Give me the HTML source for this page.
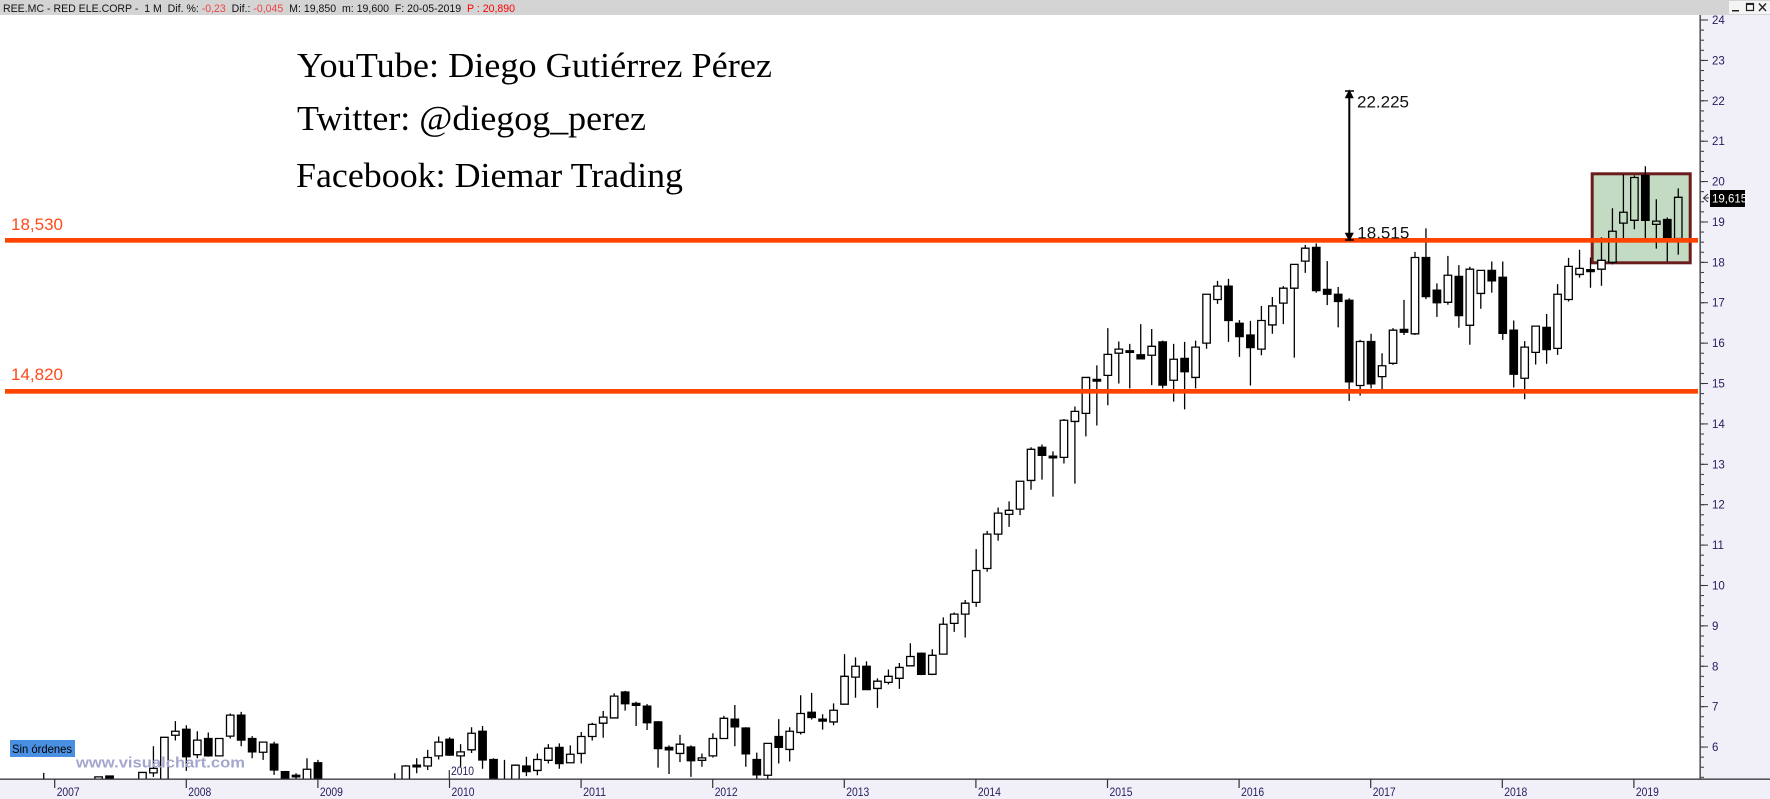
<!DOCTYPE html>
<html><head><meta charset="utf-8">
<style>
html,body{margin:0;padding:0;background:#fff;}
svg{display:block;}
.sans{font-family:"Liberation Sans",Arial,sans-serif;}
.serif{font-family:"Liberation Serif","Times New Roman",serif;}
.wk{fill:none;stroke:#000;stroke-width:1.3;vector-effect:non-scaling-stroke;}
.bd rect{stroke:#000;stroke-width:1.3;vector-effect:non-scaling-stroke;}
.w{fill:#fff;}
.b{fill:#000;}
.g{fill:#c3dbc3;}
.ax{fill:#262060;font-size:11.5px;}
</style></head>
<body>
<svg width="1770" height="799" viewBox="0 0 1770 799" xmlns="http://www.w3.org/2000/svg">
<defs>
<clipPath id="plot"><rect x="0" y="15" width="1700" height="764"/></clipPath>
<pattern id="minor" patternUnits="userSpaceOnUse" x="1700" y="19.02" width="10" height="10.0975"><rect x="0" y="0.5" width="4" height="1" fill="#333"/></pattern>
<pattern id="major" patternUnits="userSpaceOnUse" x="1700" y="19.02" width="10" height="40.39"><rect x="0" y="0.5" width="8" height="1" fill="#333"/></pattern>
</defs>

<!-- backgrounds -->
<rect x="0" y="0" width="1770" height="799" fill="#fff"/>
<rect x="1700" y="15" width="70" height="784" fill="#f1eff7"/>
<rect x="0" y="779" width="1770" height="20" fill="#f1eff7"/>
<rect x="0" y="0" width="1770" height="15" fill="#d4d4d4"/>

<!-- header -->
<text class="sans" x="3" y="12" font-size="11" textLength="512" lengthAdjust="spacingAndGlyphs" fill="#111" xml:space="preserve">REE.MC - RED ELE.CORP -  1 M  Dif. %: <tspan fill="#ee4444">-0,23</tspan>  Dif.: <tspan fill="#ee4444">-0,045</tspan>  M: 19,850  m: 19,600  F: 20-05-2019  <tspan fill="#ff0000">P : 20,890</tspan></text>
<!-- window buttons -->
<rect x="1729" y="1" width="41" height="13" fill="#f4f4f4"/>
<rect x="1732" y="10" width="7" height="1.5" fill="#222"/>
<rect x="1746.5" y="3.5" width="7" height="7" fill="none" stroke="#222" stroke-width="1.2"/>
<rect x="1746.5" y="3.5" width="7" height="1.5" fill="#222"/>
<path d="M1759 3.5L1766 11M1766 3.5L1759 11" stroke="#222" stroke-width="1.4"/>

<!-- green box -->
<rect x="1592.2" y="173.8" width="98" height="89" fill="#c3dbc3" stroke="#6b1d1d" stroke-width="3"/>

<!-- candles -->
<g clip-path="url(#plot)">
<g transform="matrix(10.97 0 0 -40.39 54.7 989.34)">
<path class="wk" d="M-1 4.8V5.36M3 4.9V5.22M4 5V5.26M5 5V5.29M8 5V5.37M9 5.26V6.02M10 5V6.24M11 6.16V6.64M12 5.41V6.54M13 5.72V6.39M14 5.76V6.36M15 5.78V6.21M16 6.21V6.83M17 6.02V6.87M18 5.72V6.27M19 5.68V6.12M20 5.31V6.13M21 4.9V5.41M22 5.1V5.35M23 4.9V5.72M24 4.9V5.68M31 4.9V5.35M32 4.9V5.55M33 5.35V5.72M34 5.43V5.93M35 5.69V6.26M36 5.78V6.24M37 5.51V6.07M38 5.85V6.49M39 5.46V6.52M40 4.9V5.72M41 4.9V5.68M42 4.9V5.57M43 5.28V5.76M44 5.3V5.84M45 5.59V6.07M46 5.46V6.09M47 5.61V6.04M48 5.59V6.37M49 6.16V6.6M50 6.23V6.89M51 6.72V7.33M52 6.9V7.39M53 6.52V7.12M54 6.42V7.06M55 5.49V6.64M56 5.33V6.04M57 5.63V6.3M58 5.26V6.04M59 5.51V5.84M60 5.74V6.34M61 6.21V6.77M62 6.02V7.04M63 5.51V6.49M64 5.1V5.86M65 5.1V6.09M66 5.59V6.69M67 5.64V6.49M68 6.31V7.28M69 6.68V7.34M70 6.43V6.81M71 6.54V7.08M72 7.06V8.3M73 7.22V8.22M74 7.42V8.12M75 6.97V7.7M76 7.55V7.92M77 7.44V8.08M78 8V8.57M79 7.78V8.34M80 7.78V8.42M81 8.3V9.21M82 8.85V9.33M83 8.71V9.64M84 9.47V10.9M85 10.34V11.35M86 11.11V11.93M87 11.45V12.08M88 11.74V12.58M89 12.37V13.42M90 12.62V13.49M91 12.2V13.32M92 13.02V14.12M93 12.52V14.43M94 13.69V15.15M95 13.96V15.45M96 14.46V16.37M97 15V16.04M98 14.88V15.98M99 15.61V16.47M100 14.96V16.35M101 14.88V16.06M102 14.55V15.98M103 14.36V16.03M104 14.88V16.06M105 15.86V17.21M106 16.97V17.54M107 16.03V17.59M108 15.66V16.57M109 14.95V16.55M110 15.7V16.92M111 16.23V17.14M112 16.47V17.41M113 15.64V17.95M114 17.74V18.43M115 17.25V18.47M116 16.94V18.03M117 16.39V17.39M118 14.57V17.11M119 14.7V16.08M120 14.88V16.23M121 14.86V15.75M122 15.46V16.37M123 16.2V17.07M124 16.2V18.26M125 17.09V18.84M126 16.65V17.48M127 16.95V18.16M128 16.38V17.93M129 15.96V17.89M130 16.85V17.8M131 17.25V18.02M132 16.08V18.02M133 14.9V16.56M134 14.61V16.05M135 15.47V16.42M136 15.49V16.72M137 15.71V17.46M138 17.03V18.11M139 17.62V18.31M140 17.37V18.12M141 17.42V18.62M142 17.95V19.34M143 18.59V20.18M144 18.82V20.15M145 18.57V20.38M146 18.34V19.56M147 18.02V19.11M148 18.19V19.83"/>
<g class="bd">
<rect class="w" x="-1.34" y="5" width=".68" height=".1"/>
<rect class="w" x="2.66" y="5" width=".68" height=".1"/>
<rect class="w" x="3.66" y="5.1" width=".68" height=".16"/>
<rect class="b" x="4.66" y="5.1" width=".68" height=".18"/>
<rect class="w" x="7.66" y="5.1" width=".68" height=".27"/>
<rect class="w" x="8.66" y="5.36" width=".68" height=".11"/>
<rect class="w" x="9.66" y="5.1" width=".68" height="1.14"/>
<rect class="w" x="10.66" y="6.29" width=".68" height=".1"/>
<rect class="b" x="11.66" y="5.76" width=".68" height=".68"/>
<rect class="w" x="12.66" y="5.81" width=".68" height=".36"/>
<rect class="b" x="13.66" y="5.78" width=".68" height=".43"/>
<rect class="w" x="14.66" y="5.78" width=".68" height=".43"/>
<rect class="w" x="15.66" y="6.27" width=".68" height=".52"/>
<rect class="b" x="16.66" y="6.17" width=".68" height=".62"/>
<rect class="b" x="17.66" y="5.88" width=".68" height=".33"/>
<rect class="w" x="18.66" y="5.87" width=".68" height=".25"/>
<rect class="b" x="19.66" y="5.43" width=".68" height=".64"/>
<rect class="b" x="20.66" y="5" width=".68" height=".39"/>
<rect class="b" x="21.66" y="5.26" width=".68" height=".04"/>
<rect class="w" x="22.66" y="5" width=".68" height=".45"/>
<rect class="b" x="23.66" y="5" width=".68" height=".61"/>
<rect class="w" x="30.66" y="5" width=".68" height=".1"/>
<rect class="w" x="31.66" y="5" width=".68" height=".53"/>
<rect class="b" x="32.66" y="5.51" width=".68" height=".04"/>
<rect class="w" x="33.66" y="5.53" width=".68" height=".21"/>
<rect class="w" x="34.66" y="5.78" width=".68" height=".34"/>
<rect class="b" x="35.66" y="5.8" width=".68" height=".39"/>
<rect class="w" x="36.66" y="5.78" width=".68" height=".1"/>
<rect class="w" x="37.66" y="5.93" width=".68" height=".41"/>
<rect class="b" x="38.66" y="5.68" width=".68" height=".71"/>
<rect class="b" x="39.66" y="5" width=".68" height=".69"/>
<rect class="b" x="40.66" y="5" width=".68" height=".1"/>
<rect class="w" x="41.66" y="5" width=".68" height=".55"/>
<rect class="b" x="42.66" y="5.39" width=".68" height=".14"/>
<rect class="w" x="43.66" y="5.42" width=".68" height=".27"/>
<rect class="w" x="44.66" y="5.67" width=".68" height=".3"/>
<rect class="b" x="45.66" y="5.59" width=".68" height=".4"/>
<rect class="w" x="46.66" y="5.61" width=".68" height=".21"/>
<rect class="w" x="47.66" y="5.84" width=".68" height=".42"/>
<rect class="w" x="48.66" y="6.26" width=".68" height=".3"/>
<rect class="w" x="49.66" y="6.59" width=".68" height=".15"/>
<rect class="w" x="50.66" y="6.72" width=".68" height=".54"/>
<rect class="b" x="51.66" y="7.07" width=".68" height=".29"/>
<rect class="b" x="52.66" y="7.03" width=".68" height=".05"/>
<rect class="b" x="53.66" y="6.6" width=".68" height=".41"/>
<rect class="b" x="54.66" y="5.96" width=".68" height=".66"/>
<rect class="b" x="55.66" y="5.93" width=".68" height=".06"/>
<rect class="w" x="56.66" y="5.84" width=".68" height=".23"/>
<rect class="b" x="57.66" y="5.66" width=".68" height=".34"/>
<rect class="w" x="58.66" y="5.67" width=".68" height=".06"/>
<rect class="w" x="59.66" y="5.78" width=".68" height=".43"/>
<rect class="w" x="60.66" y="6.21" width=".68" height=".5"/>
<rect class="b" x="61.66" y="6.5" width=".68" height=".19"/>
<rect class="b" x="62.66" y="5.83" width=".68" height=".64"/>
<rect class="b" x="63.66" y="5.31" width=".68" height=".38"/>
<rect class="w" x="64.66" y="5.3" width=".68" height=".79"/>
<rect class="b" x="65.66" y="5.99" width=".68" height=".27"/>
<rect class="w" x="66.66" y="5.94" width=".68" height=".45"/>
<rect class="w" x="67.66" y="6.36" width=".68" height=".47"/>
<rect class="b" x="68.66" y="6.73" width=".68" height=".13"/>
<rect class="b" x="69.66" y="6.64" width=".68" height=".05"/>
<rect class="w" x="70.66" y="6.62" width=".68" height=".29"/>
<rect class="w" x="71.66" y="7.06" width=".68" height=".69"/>
<rect class="w" x="72.66" y="7.73" width=".68" height=".27"/>
<rect class="b" x="73.66" y="7.42" width=".68" height=".58"/>
<rect class="w" x="74.66" y="7.45" width=".68" height=".18"/>
<rect class="w" x="75.66" y="7.6" width=".68" height=".15"/>
<rect class="w" x="76.66" y="7.7" width=".68" height=".27"/>
<rect class="w" x="77.66" y="8.01" width=".68" height=".23"/>
<rect class="b" x="78.66" y="7.8" width=".68" height=".52"/>
<rect class="w" x="79.66" y="7.8" width=".68" height=".47"/>
<rect class="w" x="80.66" y="8.3" width=".68" height=".74"/>
<rect class="w" x="81.66" y="9.06" width=".68" height=".23"/>
<rect class="w" x="82.66" y="9.29" width=".68" height=".27"/>
<rect class="w" x="83.66" y="9.58" width=".68" height=".79"/>
<rect class="w" x="84.66" y="10.42" width=".68" height=".85"/>
<rect class="w" x="85.66" y="11.27" width=".68" height=".52"/>
<rect class="w" x="86.66" y="11.76" width=".68" height=".1"/>
<rect class="w" x="87.66" y="11.89" width=".68" height=".69"/>
<rect class="w" x="88.66" y="12.6" width=".68" height=".77"/>
<rect class="b" x="89.66" y="13.22" width=".68" height=".2"/>
<rect class="b" x="90.66" y="13.16" width=".68" height=".04"/>
<rect class="w" x="91.66" y="13.17" width=".68" height=".92"/>
<rect class="w" x="92.66" y="14.06" width=".68" height=".25"/>
<rect class="w" x="93.66" y="14.26" width=".68" height=".89"/>
<rect class="b" x="94.66" y="15.06" width=".68" height=".04"/>
<rect class="w" x="95.66" y="15.2" width=".68" height=".52"/>
<rect class="w" x="96.66" y="15.75" width=".68" height=".1"/>
<rect class="b" x="97.66" y="15.77" width=".68" height=".04"/>
<rect class="b" x="98.66" y="15.61" width=".68" height=".1"/>
<rect class="w" x="99.66" y="15.7" width=".68" height=".22"/>
<rect class="b" x="100.66" y="14.96" width=".68" height="1.07"/>
<rect class="w" x="101.66" y="15.08" width=".68" height=".52"/>
<rect class="b" x="102.66" y="15.29" width=".68" height=".33"/>
<rect class="w" x="103.66" y="15.15" width=".68" height=".75"/>
<rect class="w" x="104.66" y="16" width=".68" height="1.21"/>
<rect class="w" x="105.66" y="17.08" width=".68" height=".33"/>
<rect class="b" x="106.66" y="16.56" width=".68" height=".85"/>
<rect class="b" x="107.66" y="16.16" width=".68" height=".33"/>
<rect class="b" x="108.66" y="15.89" width=".68" height=".31"/>
<rect class="w" x="109.66" y="15.85" width=".68" height=".71"/>
<rect class="w" x="110.66" y="16.45" width=".68" height=".47"/>
<rect class="w" x="111.66" y="16.99" width=".68" height=".37"/>
<rect class="w" x="112.66" y="17.36" width=".68" height=".59"/>
<rect class="w" x="113.66" y="18.03" width=".68" height=".32"/>
<rect class="b" x="114.66" y="17.3" width=".68" height="1.07"/>
<rect class="b" x="115.66" y="17.21" width=".68" height=".12"/>
<rect class="b" x="116.66" y="17.03" width=".68" height=".18"/>
<rect class="b" x="117.66" y="15.04" width=".68" height="2.02"/>
<rect class="w" x="118.66" y="14.95" width=".68" height="1.09"/>
<rect class="b" x="119.66" y="14.99" width=".68" height="1.05"/>
<rect class="w" x="120.66" y="15.17" width=".68" height=".27"/>
<rect class="w" x="121.66" y="15.5" width=".68" height=".82"/>
<rect class="b" x="122.66" y="16.27" width=".68" height=".07"/>
<rect class="w" x="123.66" y="16.23" width=".68" height="1.89"/>
<rect class="b" x="124.66" y="17.15" width=".68" height=".97"/>
<rect class="b" x="125.66" y="17" width=".68" height=".31"/>
<rect class="w" x="126.66" y="17.01" width=".68" height=".67"/>
<rect class="b" x="127.66" y="16.68" width=".68" height=".97"/>
<rect class="w" x="128.66" y="16.44" width=".68" height="1.39"/>
<rect class="w" x="129.66" y="17.23" width=".68" height=".57"/>
<rect class="b" x="130.66" y="17.54" width=".68" height=".26"/>
<rect class="b" x="131.66" y="16.24" width=".68" height="1.39"/>
<rect class="b" x="132.66" y="15.23" width=".68" height="1.09"/>
<rect class="w" x="133.66" y="15.13" width=".68" height=".77"/>
<rect class="w" x="134.66" y="15.77" width=".68" height=".65"/>
<rect class="b" x="135.66" y="15.84" width=".68" height=".55"/>
<rect class="w" x="136.66" y="15.87" width=".68" height="1.34"/>
<rect class="w" x="137.66" y="17.08" width=".68" height=".82"/>
<rect class="w" x="138.66" y="17.7" width=".68" height=".15"/>
<rect class="b" x="139.66" y="17.77" width=".68" height=".05"/>
<rect class="w" x="140.66" y="17.83" width=".68" height=".22"/>
<rect class="g" x="141.66" y="18" width=".68" height=".77"/>
<rect class="g" x="142.66" y="18.97" width=".68" height=".27"/>
<rect class="g" x="143.66" y="19.04" width=".68" height="1.06"/>
<rect class="b" x="144.66" y="19.04" width=".68" height="1.11"/>
<rect class="g" x="145.66" y="18.94" width=".68" height=".08"/>
<rect class="b" x="146.66" y="18.59" width=".68" height=".47"/>
<rect class="g" x="147.66" y="18.59" width=".68" height="1.02"/>
</g>
</g>
</g>

<!-- horizontal support/resistance lines -->
<rect x="5" y="238" width="1693" height="4.7" fill="#ff4400"/>
<rect x="5" y="389" width="1693" height="4.7" fill="#ff4400"/>
<text class="sans" x="11" y="230" font-size="17" fill="#ff4a1a">18,530</text>
<text class="sans" x="11" y="380" font-size="17" fill="#ff4a1a">14,820</text>

<!-- title texts -->
<text class="serif" x="297" y="77" font-size="35" fill="#000" textLength="475" lengthAdjust="spacingAndGlyphs">YouTube: Diego Gutiérrez Pérez</text>
<text class="serif" x="297" y="130" font-size="35" fill="#000" textLength="349" lengthAdjust="spacingAndGlyphs">Twitter: @diegog_perez</text>
<text class="serif" x="296" y="187" font-size="35" fill="#000" textLength="387" lengthAdjust="spacingAndGlyphs">Facebook: Diemar Trading</text>

<!-- measurement arrow -->
<line x1="1349.3" y1="92" x2="1349.3" y2="239" stroke="#000" stroke-width="2"/>
<path d="M1345 91H1354M1349.3 91L1346 97.5H1352.6Z" stroke="#000" stroke-width="1.5" fill="#000"/>
<path d="M1345 240H1354M1349.3 240L1346 233.5H1352.6Z" stroke="#000" stroke-width="1.5" fill="#000"/>
<text class="sans" x="1357" y="107.3" font-size="17" fill="#111">22.225</text>
<text class="sans" x="1357.3" y="238.3" font-size="17" fill="#111">18.515</text>

<!-- axes -->
<rect x="1699.5" y="15" width="1.3" height="764" fill="#333"/>
<rect x="0" y="778.5" width="1770" height="1.3" fill="#333"/>
<rect x="1700.8" y="15" width="4" height="764" fill="url(#minor)"/>
<rect x="1700.8" y="15" width="8" height="764" fill="url(#major)"/>

<g class="sans ax">
<text x="1712" y="24">24</text>
<text x="1712" y="64.4">23</text>
<text x="1712" y="104.8">22</text>
<text x="1712" y="145.2">21</text>
<text x="1712" y="185.6">20</text>
<text x="1712" y="226">19</text>
<text x="1712" y="266.3">18</text>
<text x="1712" y="306.7">17</text>
<text x="1712" y="347.1">16</text>
<text x="1712" y="387.5">15</text>
<text x="1712" y="427.9">14</text>
<text x="1712" y="468.3">13</text>
<text x="1712" y="508.7">12</text>
<text x="1712" y="549.1">11</text>
<text x="1712" y="589.5">10</text>
<text x="1712" y="629.9">9</text>
<text x="1712" y="670.3">8</text>
<text x="1712" y="710.7">7</text>
<text x="1712" y="751">6</text>
</g>

<!-- last price tag -->
<rect x="1710" y="190" width="35" height="17" fill="#000"/>
<text class="sans" x="1712" y="202.5" font-size="11.5" fill="#fff">19,615</text>
<path d="M1708 194L1703.5 198L1708 202M1703.5 198H1709" stroke="#333" stroke-width="1" fill="none"/>

<!-- x axis ticks and labels -->
<path d="M54.7 779V788M186.3 779V788M317.9 779V788M449.5 779V788M581.1 779V788M712.7 779V788M844.3 779V788M975.9 779V788M1107.5 779V788M1239.1 779V788M1370.7 779V788M1502.3 779V788M1633.9 779V788" stroke="#333" stroke-width="1.2"/>
<g class="sans ax">
<text x="56.7" y="796" textLength="23" lengthAdjust="spacingAndGlyphs">2007</text>
<text x="188.3" y="796" textLength="23" lengthAdjust="spacingAndGlyphs">2008</text>
<text x="319.9" y="796" textLength="23" lengthAdjust="spacingAndGlyphs">2009</text>
<text x="451.5" y="796" textLength="23" lengthAdjust="spacingAndGlyphs">2010</text>
<text x="583.1" y="796" textLength="23" lengthAdjust="spacingAndGlyphs">2011</text>
<text x="714.7" y="796" textLength="23" lengthAdjust="spacingAndGlyphs">2012</text>
<text x="846.3" y="796" textLength="23" lengthAdjust="spacingAndGlyphs">2013</text>
<text x="977.9" y="796" textLength="23" lengthAdjust="spacingAndGlyphs">2014</text>
<text x="1109.5" y="796" textLength="23" lengthAdjust="spacingAndGlyphs">2015</text>
<text x="1241.1" y="796" textLength="23" lengthAdjust="spacingAndGlyphs">2016</text>
<text x="1372.7" y="796" textLength="23" lengthAdjust="spacingAndGlyphs">2017</text>
<text x="1504.3" y="796" textLength="23" lengthAdjust="spacingAndGlyphs">2018</text>
<text x="1635.9" y="796" textLength="23" lengthAdjust="spacingAndGlyphs">2019</text>
<text x="451" y="775" textLength="23" lengthAdjust="spacingAndGlyphs">2010</text>
</g>
<line x1="449.3" y1="770" x2="449.3" y2="779" stroke="#333" stroke-width="1.2"/>

<!-- status / watermark -->
<rect x="10" y="740" width="65" height="17" fill="#4a90e2"/>
<text class="sans" x="12" y="753" font-size="12" fill="#000" textLength="60" lengthAdjust="spacingAndGlyphs">Sin órdenes</text>
<text class="sans" x="76" y="767.7" font-size="15" font-weight="bold" fill="#a3a6cd" textLength="169" lengthAdjust="spacingAndGlyphs">www.visualchart.com</text>
</svg>
</body></html>
